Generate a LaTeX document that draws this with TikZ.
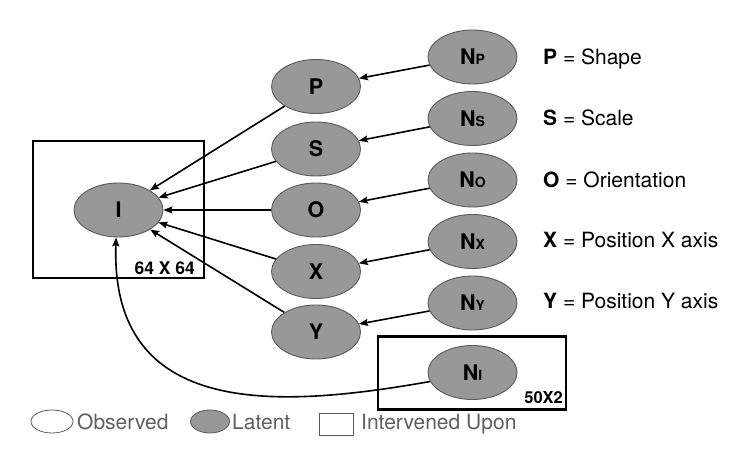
\documentclass[tikz,border=0pt]{standalone}
\usepackage{fontspec}
\setmainfont{TeX Gyre Heros}
\usepackage{tikz}
\usetikzlibrary{shapes,calc,arrows.meta}

\definecolor{latentFill}{RGB}{152,152,152}
\definecolor{latentLine}{RGB}{90,90,90}
\definecolor{legendText}{RGB}{95,95,95}

\newcommand{\noisevar}[1]{N{\fontsize{14}{14}\selectfont #1}}

\begin{document}
\begin{tikzpicture}[x=1pt,y=1pt,
  latent/.style={ellipse, draw=latentLine, fill=latentFill, line width=0.9pt, minimum width=89pt, minimum height=54pt, inner sep=0pt, font=\fontsize{21.5}{24}\selectfont\bfseries},
  edge/.style={line width=1.6pt, -{Stealth[length=9pt,width=7pt,inset=1.5pt]}},
  plate/.style={draw, line width=2.2pt, inner sep=0pt},
  key/.style={anchor=base west, inner sep=0pt, font=\fontsize{21}{24}\selectfont},
  legend/.style={anchor=base west, inner sep=0pt, text=legendText, font=\fontsize{21}{24}\selectfont}]
  \useasboundingbox (0,0) rectangle (756,470);
  % \draw[step=10,thin,gray!40] (0,0) grid (756,470);

  \node[plate, minimum width=171pt, minimum height=137pt] (plateINode) at (118.5,260.5) {};
  \node[plate, minimum width=188pt, minimum height=73pt] (plateNINode) at (472,97) {};
  \node[anchor=south east, inner sep=0pt, font=\fontsize{17.5}{20}\selectfont\bfseries] (plateILabel) at ($(plateINode.south east)+(-10,4)$) {64 X 64};
  \node[anchor=south east, inner sep=0pt, font=\fontsize{16.5}{18}\selectfont\bfseries] (plateNILabel) at ($(plateNINode.south east)+(-4,7)$) {50X2};

  \node[latent] (circleINode) at (118.5,260) {I};

  \node[latent] (circlePNode) at (316,383.5) {P};
  \node[latent] (circleSNode) at (316,321) {S};
  \node[latent] (circleONode) at (316,260) {O};
  \node[latent] (circleXNode) at (316,198.5) {X};
  \node[latent] (circleYNode) at (316,138) {Y};

  \node[latent] (circleNPNode) at (472.5,413) {\noisevar{P}};
  \node[latent] (circleNSNode) at (472.5,351.5) {\noisevar{S}};
  \node[latent] (circleNONode) at (472.5,290) {\noisevar{O}};
  \node[latent] (circleNXNode) at (472.5,228.5) {\noisevar{X}};
  \node[latent] (circleNYNode) at (472.5,167) {\noisevar{Y}};
  \node[latent] (circleNINode) at (472.5,97.5) {\noisevar{I}};

  \node[key] (keyPNode) at (543,405) {\textbf{P} = Shape};
  \node[key] (keySNode) at (543,344) {\textbf{S} = Scale};
  \node[key] (keyONode) at (543,282.5) {\textbf{O} = Orientation};
  \node[key] (keyXNode) at (543,222) {\textbf{X} = Position X axis};
  \node[key] (keyYNode) at (543,161) {\textbf{Y} = Position Y axis};

  \draw[edge] (circleNPNode) -- (circlePNode);
  \draw[edge] (circleNSNode) -- (circleSNode);
  \draw[edge] (circleNONode) -- (circleONode);
  \draw[edge] (circleNXNode) -- (circleXNode);
  \draw[edge] (circleNYNode) -- (circleYNode);

  \draw[edge] (circlePNode) -- (circleINode);
  \draw[edge] (circleSNode) -- (circleINode);
  \draw[edge] (circleONode) -- (circleINode);
  \draw[edge] (circleXNode) -- (circleINode);
  \draw[edge] (circleYNode) -- (circleINode);
  \draw[edge] (circleNINode.192) .. controls (280,62) and (110,50) .. (circleINode.265);

  % legend
  \node[ellipse, draw=latentLine, line width=0.8pt, minimum width=42pt, minimum height=23pt] (legendObsNode) at (52,48.5) {};
  \node[legend] (legendObsText) at (77,40) {Observed};
  \node[ellipse, draw=latentLine, fill=latentFill, line width=0.8pt, minimum width=39pt, minimum height=23pt] (legendLatNode) at (210,48.5) {};
  \node[legend] (legendLatText) at (232,40) {Latent};
  \node[draw=latentLine, line width=0.8pt, minimum width=34pt, minimum height=22pt, inner sep=0pt] (legendIntNode) at (336,46) {};
  \node[legend] (legendIntText) at (361,40) {Intervened Upon};
\end{tikzpicture}
\end{document}
